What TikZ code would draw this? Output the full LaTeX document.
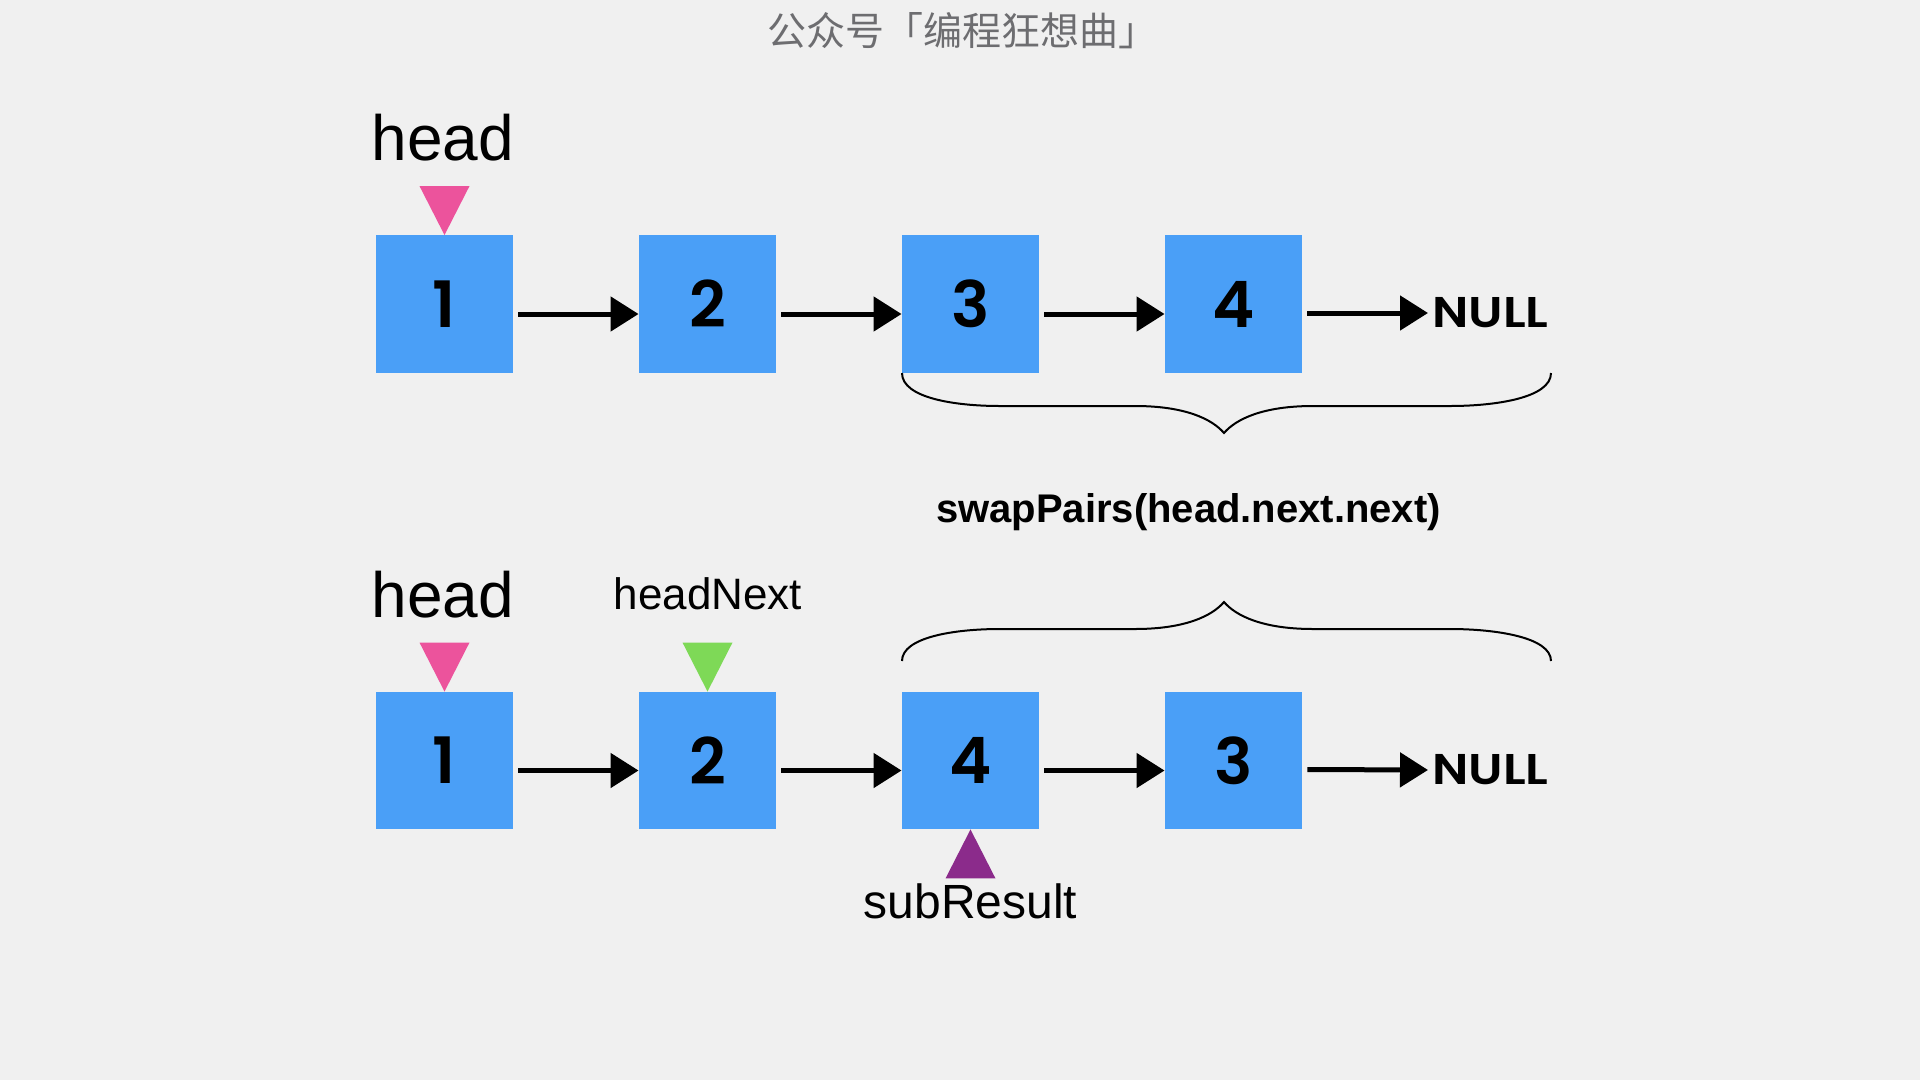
\documentclass[tikz,border=0pt]{standalone}
\usepackage{fontspec}
\usepackage{xcolor}
\usepackage{tikz}
\usetikzlibrary{arrows.meta}
\setmainfont{Liberation Sans}
\newfontfamily\numfont{Poppins}[BoldFont={Poppins SemiBold}]
\newfontfamily\nilfont{Poppins}[BoldFont={Poppins SemiBold}, FakeStretch=1.15]
\newfontfamily\cjkfont{Noto Sans CJK SC}

\definecolor{bgc}{HTML}{F0F0F0}
\definecolor{boxblue}{HTML}{4A9FF7}
\definecolor{headpink}{HTML}{EC539C}
\definecolor{nextgreen}{HTML}{7ED957}
\definecolor{subpurple}{HTML}{8B2B8B}
\definecolor{titlegray}{HTML}{6D6D70}

\tikzset{
    listbox/.style={fill=boxblue, minimum size=137.5pt, inner sep=0pt,
        font=\numfont\bfseries\fontsize{64}{64}\selectfont},
    nullnode/.style={anchor=west, inner sep=0pt,
        font=\nilfont\bfseries\fontsize{43}{43}\selectfont},
    ptrlabel/.style={anchor=base, inner sep=0pt},
    nextarrow/.style={line width=5pt, -{Triangle[length=28pt,width=34pt]}},
    bracecurve/.style={line width=2pt}
}

\begin{document}
\begin{tikzpicture}[x=1pt, y=-1pt]
    \fill[bgc] (0,0) rectangle (1920,1080);
    \useasboundingbox (0,0) rectangle (1920,1080);
    \node[font=\cjkfont\fontsize{39}{39}\selectfont, text=titlegray] (title) at (962,31) {公众号「编程狂想曲」};

    % before: 1 -> 2 -> 3 -> 4 -> NULL
    \foreach \v [count=\i] in {1,2,3,4}
        \node[listbox] (a\i) at ({444.5+263*(\i-1)},304) {\v};
    \node[nullnode] (anull) at (1432,313) {NULL};
    \foreach \i [evaluate=\i as \j using int(\i+1)] in {1,2,3}
        \draw[nextarrow] ([xshift=5pt,yshift=-10pt]a\i.east) -- ([yshift=-10pt]a\j.west);
    \draw[nextarrow] ([xshift=5pt,yshift=-9pt]a4.east) -- ([xshift=-4pt]anull.west);
    \fill[headpink] (a1.north) -- ++(-25,-49) -- ++(50,0) -- cycle;
    \node[ptrlabel, font=\fontsize{64}{64}\selectfont] (headA) at (443,160) {head};
    \draw[bracecurve] (902,373) .. controls (902,398) and (955,406) .. (1000,406) -- (1135,406)
        .. controls (1185,406) and (1212,419) .. (1224,433)
        .. controls (1236,419) and (1263,406) .. (1313,406) -- (1450,406)
        .. controls (1495,406) and (1551,398) .. (1551,373);
    \node[ptrlabel, font=\bfseries\fontsize{40}{40}\selectfont] (call) at (1188.5,522) {swapPairs(head.next.next)};

    % after: 1 -> 2 -> 4 -> 3 -> NULL
    \foreach \v [count=\i] in {1,2,4,3}
        \node[listbox] (b\i) at ({444.5+263*(\i-1)},760.5) {\v};
    \node[nullnode] (bnull) at (1432,770) {NULL};
    \foreach \i [evaluate=\i as \j using int(\i+1)] in {1,2,3}
        \draw[nextarrow] ([xshift=5pt,yshift=-10pt]b\i.east) -- ([yshift=-10pt]b\j.west);
    \draw[nextarrow] ([xshift=5pt,yshift=-9pt]b4.east) -- ([xshift=-4pt]bnull.west);
    \draw[bracecurve] (902,661) .. controls (902,637) and (955,629) .. (1000,629) -- (1135,629)
        .. controls (1185,629) and (1212,616) .. (1224,602)
        .. controls (1236,616) and (1263,629) .. (1313,629) -- (1450,629)
        .. controls (1495,629) and (1551,637) .. (1551,661);
    \fill[headpink] (b1.north) -- ++(-25,-49) -- ++(50,0) -- cycle;
    \node[ptrlabel, font=\fontsize{64}{64}\selectfont] (headB) at (443,617) {head};
    \fill[nextgreen] (b2.north) -- ++(-25,-49) -- ++(50,0) -- cycle;
    \node[ptrlabel, font=\fontsize{44}{44}\selectfont] (headNext) at (708,609) {headNext};
    \fill[subpurple] (b3.south) -- ++(-25,49) -- ++(50,0) -- cycle;
    \node[ptrlabel, font=\fontsize{48}{48}\selectfont] (subResult) at (970.5,918) {subResult};
\end{tikzpicture}
\end{document}
